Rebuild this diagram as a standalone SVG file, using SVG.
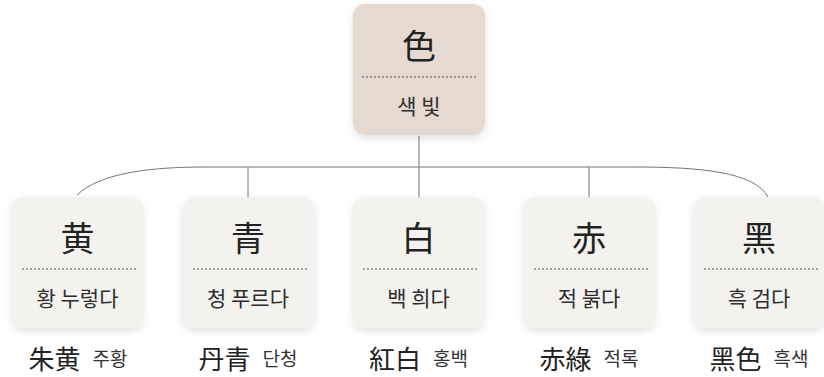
<svg xmlns="http://www.w3.org/2000/svg" width="824" height="377" viewBox="0 0 824 377">
<defs>
<filter id="sh" x="-20%" y="-20%" width="140%" height="140%">
<feDropShadow dx="0" dy="3" stdDeviation="4" flood-color="#000" flood-opacity="0.12"/>
</filter>
<style>
.box{fill:#f3f2ef;filter:url(#sh)}
.top{fill:#e6d9d0;filter:url(#sh)}
.dot{stroke:#555;stroke-width:1;stroke-dasharray:2 2;fill:none}
.han{font-family:"Noto Sans CJK KR","Noto Sans CJK SC",sans-serif;font-size:34px;fill:#222;text-anchor:middle;dominant-baseline:central;font-weight:400}
.kor{font-family:"Noto Sans CJK KR",sans-serif;font-size:21px;fill:#2e2e2e;text-anchor:middle;dominant-baseline:central}
.sub{font-family:"Noto Sans CJK KR","Noto Sans CJK SC",sans-serif;font-size:26px;fill:#222;dominant-baseline:central;font-weight:400}
.subk{font-family:"Noto Sans CJK KR",sans-serif;font-size:19px;fill:#333;dominant-baseline:central}
.con{stroke:#777;stroke-width:1;fill:none}
</style>
</defs>
<g id="connectors">
<path class="con" d="M419,136 L419,197"/>
<path class="con" d="M77,195 C100,173 150,167 205,167 L635,167 C700,167 755,172 768,197"/>
<path class="con" d="M248,167 L248,197"/>
<path class="con" d="M589,167 L589,197"/>
</g>
<g id="node-root">
<rect class="top" x="353" y="4" width="132" height="131" rx="12"/>
<text class="han" x="419" y="44">色</text>
<line class="dot" x1="362" y1="77" x2="477" y2="77"/>
<text class="kor" x="419" y="105">색 빛</text>
</g>
<g id="node-yellow">
<rect class="box" x="12" y="197" width="131" height="131" rx="12"/>
<text class="han" x="77.5" y="236">黄</text>
<line class="dot" x1="22" y1="269" x2="136" y2="269"/>
<text class="kor" x="77.5" y="297">황 누렇다</text>
<text x="78" y="357" text-anchor="middle"><tspan class="sub">朱黄</tspan><tspan class="subk" dx="12">주황</tspan></text>
</g>
<g id="node-blue">
<rect class="box" x="183" y="197" width="131" height="131" rx="12"/>
<text class="han" x="248" y="236">青</text>
<line class="dot" x1="193" y1="269" x2="307" y2="269"/>
<text class="kor" x="248" y="297">청 푸르다</text>
<text x="248" y="357" text-anchor="middle"><tspan class="sub">丹青</tspan><tspan class="subk" dx="12">단청</tspan></text>
</g>
<g id="node-white">
<rect class="box" x="353" y="197" width="131" height="131" rx="12"/>
<text class="han" x="418.5" y="236">白</text>
<line class="dot" x1="363" y1="269" x2="477" y2="269"/>
<text class="kor" x="418.5" y="297">백 희다</text>
<text x="418.5" y="357" text-anchor="middle"><tspan class="sub">紅白</tspan><tspan class="subk" dx="12">홍백</tspan></text>
</g>
<g id="node-red">
<rect class="box" x="524" y="197" width="131" height="131" rx="12"/>
<text class="han" x="589" y="236">赤</text>
<line class="dot" x1="534" y1="269" x2="648" y2="269"/>
<text class="kor" x="589" y="297">적 붉다</text>
<text x="589" y="357" text-anchor="middle"><tspan class="sub">赤綠</tspan><tspan class="subk" dx="12">적록</tspan></text>
</g>
<g id="node-black">
<rect class="box" x="694" y="197" width="131" height="131" rx="12"/>
<text class="han" x="759" y="236">黑</text>
<line class="dot" x1="704" y1="269" x2="818" y2="269"/>
<text class="kor" x="759" y="297">흑 검다</text>
<text x="759" y="357" text-anchor="middle"><tspan class="sub">黑色</tspan><tspan class="subk" dx="12">흑색</tspan></text>
</g>
</svg>
